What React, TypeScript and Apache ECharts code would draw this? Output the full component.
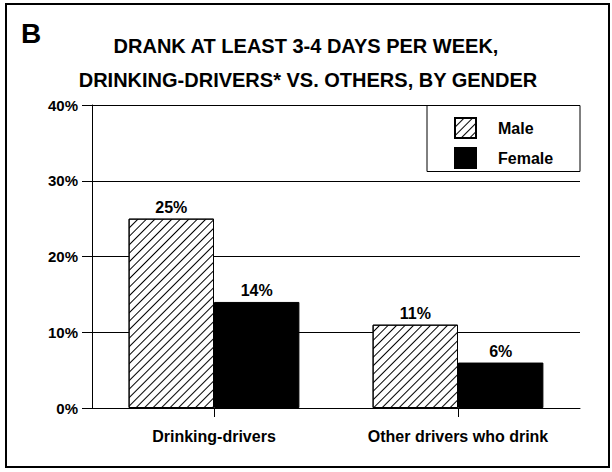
import React, { useEffect, useRef } from "react";
import * as echarts from "echarts";

const categories = ["Drinking-drivers", "Other drivers who drink"];
const maleValues = [25, 11];
const femaleValues = [14, 6];
const seriesNames = ["Male", "Female"];
const titleLines = ["DRANK AT LEAST 3-4 DAYS PER WEEK,", "DRINKING-DRIVERS* VS. OTHERS, BY GENDER"];
const panelLetter = "B";

const FONT = "'Liberation Sans', Arial, sans-serif";

export default function App() {
  const ref = useRef<HTMLDivElement>(null);
  useEffect(() => {
    if (!ref.current) return;
    const chart = echarts.init(ref.current, undefined, { renderer: "svg" });
    const hatch = {
      symbol: "rect",
      symbolSize: 1,
      color: "#000",
      backgroundColor: "#fff",
      dashArrayX: [[1, 0]],
      dashArrayY: [1, 5],
      rotation: -Math.PI / 4,
    };
    const labelStyle = {
      show: true,
      position: "top",
      distance: 3,
      formatter: "{c}%",
      color: "#000",
      fontFamily: FONT,
      fontWeight: "bold",
      fontSize: 16,
    };
    chart.setOption({
      animation: false,
      backgroundColor: "#fff",
      textStyle: { fontFamily: FONT },
      grid: { left: 92, right: 32, top: 105, bottom: 64, containLabel: false },
      graphic: [
        {
          type: "rect",
          shape: { x: 6, y: 4, width: 603, height: 463 },
          style: { fill: "none", stroke: "#000", lineWidth: 2 },
          z: 1,
        },
        {
          type: "text",
          x: 21,
          y: 19,
          style: { text: panelLetter, fill: "#000", font: `bold 28px ${FONT}` },
        },
        {
          type: "text",
          x: 306,
          y: 36,
          style: { text: titleLines[0], fill: "#000", font: `bold 20px ${FONT}`, textAlign: "center" },
        },
        {
          type: "text",
          x: 308,
          y: 70,
          style: { text: titleLines[1], fill: "#000", font: `bold 20px ${FONT}`, textAlign: "center" },
        },
        {
          type: "rect",
          shape: { x: 427, y: 105.5, width: 153, height: 66 },
          style: { fill: "#fff", stroke: "#000", lineWidth: 1 },
          z: 10,
        },
      ],
      legend: {
        data: seriesNames,
        orient: "vertical",
        left: 449,
        top: 112,
        icon: "rect",
        itemWidth: 21,
        itemHeight: 20,
        itemGap: 8,
        z: 20,
        textStyle: { color: "#000", fontFamily: FONT, fontWeight: "bold", fontSize: 16, padding: [0, 0, 0, 17] },
      },
      xAxis: {
        type: "category",
        data: categories,
        axisLine: { show: true, lineStyle: { color: "#000", width: 1 } },
        axisTick: { show: true, alignWithLabel: true, length: 9, lineStyle: { color: "#000" } },
        axisLabel: { color: "#000", fontFamily: FONT, fontWeight: "bold", fontSize: 16, margin: 20 },
        splitLine: { show: false },
      },
      yAxis: {
        type: "value",
        min: 0,
        max: 40,
        interval: 10,
        axisLine: { show: true, lineStyle: { color: "#000", width: 1 } },
        axisTick: { show: true, length: 10, lineStyle: { color: "#000" } },
        axisLabel: { color: "#000", fontFamily: FONT, fontWeight: "bold", fontSize: 15, margin: 14, formatter: "{value}%" },
        splitLine: { show: true, lineStyle: { color: "#000", width: 1 } },
      },
      series: [
        {
          name: seriesNames[0],
          type: "bar",
          data: maleValues,
          barGap: "0%",
          barCategoryGap: "30%",
          itemStyle: { color: "#fff", borderColor: "#000", borderWidth: 1, decal: hatch },
          label: labelStyle,
        },
        {
          name: seriesNames[1],
          type: "bar",
          data: femaleValues,
          barGap: "0%",
          barCategoryGap: "30%",
          itemStyle: { color: "#000", borderColor: "#000", borderWidth: 1 },
          label: labelStyle,
        },
      ],
    });
    return () => chart.dispose();
  }, []);
  return <div ref={ref} style={{ position: "fixed", left: 0, top: 0, width: 612, height: 472 }} />;
}
